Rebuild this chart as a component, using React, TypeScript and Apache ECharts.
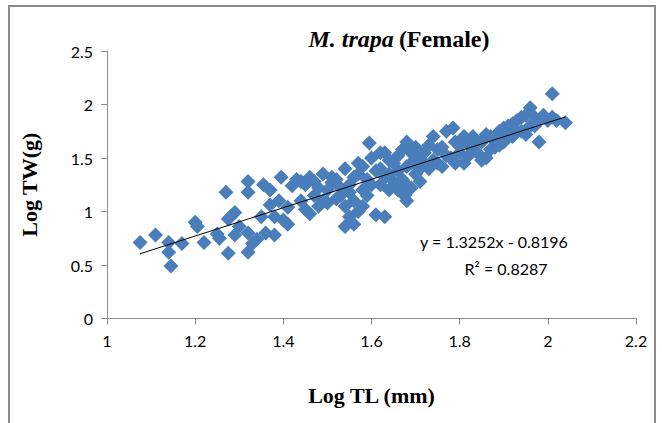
import React, { useEffect, useRef } from "react";
import * as echarts from "echarts";

// Log TL (mm) values
const logTL: number[] = [
  1.075, 1.11, 1.14, 1.14, 1.145, 1.17, 1.2, 1.205, 1.22, 1.25, 1.255, 1.27, 1.275, 1.275, 1.28, 1.29, 1.3, 1.29,
  1.32, 1.32, 1.32, 1.32, 1.33, 1.34, 1.35, 1.355, 1.36, 1.37, 1.37, 1.38, 1.38, 1.39, 1.395, 1.4, 1.41, 1.41, 1.42, 1.43, 1.44, 1.44, 1.45, 1.45,
  1.46, 1.46, 1.47, 1.47, 1.48, 1.48, 1.49, 1.49, 1.5, 1.5, 1.51, 1.51, 1.52, 1.52, 1.53, 1.53, 1.54, 1.54, 1.54, 1.55, 1.55, 1.55, 1.56, 1.56, 1.56, 1.57, 1.57, 1.57, 1.58, 1.58, 1.58, 1.59, 1.59, 1.595, 1.6, 1.6,
  1.61, 1.61, 1.62, 1.62, 1.62, 1.63, 1.63, 1.63, 1.64, 1.64, 1.64, 1.65, 1.65, 1.66, 1.66, 1.66, 1.67, 1.67, 1.675, 1.68, 1.68, 1.68, 1.68, 1.69, 1.69, 1.69, 1.7, 1.7, 1.7, 1.71, 1.71, 1.72, 1.72,
  1.73, 1.73, 1.74, 1.74, 1.75, 1.75, 1.76, 1.76, 1.77, 1.77, 1.78, 1.785, 1.79, 1.79, 1.8, 1.8, 1.81, 1.81, 1.82, 1.82, 1.83, 1.83, 1.84, 1.84, 1.85, 1.85, 1.86, 1.86, 1.87, 1.87, 1.88, 1.88,
  1.89, 1.89, 1.9, 1.9, 1.91, 1.91, 1.92, 1.92, 1.93, 1.93, 1.94, 1.94, 1.95, 1.95, 1.96, 1.96, 1.97, 1.97, 1.98, 1.98, 1.99, 2.0, 2.01, 2.01, 2.02, 2.04
];

// Log TW (g) values
const logTW: number[] = [
  0.71, 0.78, 0.71, 0.62, 0.49, 0.7, 0.9, 0.86, 0.71, 0.79, 0.75, 1.18, 0.61, 0.93, 0.95, 0.99, 0.86, 0.78,
  1.28, 1.18, 0.62, 0.8, 0.7, 0.74, 0.95, 1.25, 0.8, 1.2, 1.06, 0.78, 0.95, 1.1, 1.32, 0.92, 1.04, 0.88, 1.24, 1.3, 1.1, 1.28, 1.25, 1.02,
  1.32, 0.98, 1.28, 1.15, 1.05, 1.22, 1.35, 1.1, 1.2, 1.08, 1.27, 1.32, 1.3, 1.12, 1.15, 1.22, 0.86, 1.4, 1.05, 0.95, 1.25, 1.18, 1.1, 0.88, 1.32, 1.45, 1.35, 1.0, 1.2, 1.05, 1.42, 1.3, 1.15, 1.64, 1.5, 1.25,
  0.97, 1.38, 1.4, 1.25, 1.55, 0.95, 1.55, 1.32, 1.35, 1.2, 1.48, 1.45, 1.28, 1.2, 1.52, 1.38, 1.58, 1.3, 1.15, 1.65, 1.1, 1.42, 1.25, 1.45, 1.55, 1.22, 1.5, 1.35, 1.6, 1.4, 1.28, 1.55, 1.45,
  1.4, 1.62, 1.7, 1.48, 1.45, 1.58, 1.6, 1.42, 1.75, 1.52, 1.5, 1.78, 1.65, 1.45, 1.55, 1.62, 1.45, 1.7, 1.62, 1.52, 1.7, 1.58, 1.55, 1.65, 1.65, 1.48, 1.5, 1.72, 1.7, 1.58, 1.6, 1.66,
  1.75, 1.62, 1.65, 1.78, 1.8, 1.7, 1.7, 1.82, 1.85, 1.75, 1.75, 1.88, 1.9, 1.72, 1.97, 1.8, 1.8, 1.88, 1.65, 1.85, 1.9, 1.85, 2.1, 1.88, 1.85, 1.83
];

const slope = 1.3252;
const intercept = -0.8196;
const trendX: number[] = [1.075, 2.04];

const xTicks = { min: 1, max: 2.2, interval: 0.2 };
const yTicks = { min: 0, max: 2.5, interval: 0.5 };

const equationText = "y = 1.3252x - 0.8196";
const r2Text = "R² = 0.8287";

export default function App() {
  const ref = useRef<HTMLDivElement>(null);
  useEffect(() => {
    if (!ref.current) return;
    const chart = echarts.init(ref.current, null, { renderer: "svg" });
    const points = logTL.map((x, i) => [x, logTW[i]]);
    const trend = trendX.map((x) => [x, slope * x + intercept]);
    const axisGray = "#8c8c8c";
    const labelFont = "Lato, 'Open Sans', sans-serif";
    const serif = "'Liberation Serif', 'Times New Roman', serif";
    chart.setOption({
      animation: false,
      backgroundColor: "#ffffff",
      title: {
        text: "{i|M. trapa} {b|(Female)}",
        left: 394,
        top: 22,
        textAlign: "center",
        textStyle: {
          rich: {
            i: { fontFamily: serif, fontStyle: "italic", fontWeight: "bold", fontSize: 24, color: "#000" },
            b: { fontFamily: serif, fontWeight: "bold", fontSize: 24, color: "#000" },
          },
        },
      },
      grid: { left: 107, right: 26, top: 51, bottom: 104.5 },
      xAxis: {
        type: "value",
        min: xTicks.min,
        max: xTicks.max,
        interval: xTicks.interval,
        name: "Log TL (mm)",
        nameLocation: "middle",
        nameGap: 66,
        nameTextStyle: { fontFamily: serif, fontWeight: "bold", fontSize: 22, color: "#000" },
        axisLine: { show: true, lineStyle: { color: axisGray, width: 1 } },
        axisTick: { show: true, length: 6, lineStyle: { color: axisGray } },
        axisLabel: { fontFamily: labelFont, fontSize: 16, color: "#000", margin: 14 },
        splitLine: { show: false },
      },
      yAxis: {
        type: "value",
        min: yTicks.min,
        max: yTicks.max,
        interval: yTicks.interval,
        name: "Log TW(g)",
        nameLocation: "middle",
        nameGap: 67,
        nameRotate: 90,
        nameTextStyle: { fontFamily: serif, fontWeight: "bold", fontSize: 22, color: "#000" },
        axisLine: { show: true, lineStyle: { color: axisGray, width: 1 } },
        axisTick: { show: true, length: 6, lineStyle: { color: axisGray } },
        axisLabel: { fontFamily: labelFont, fontSize: 16, color: "#000", margin: 14 },
        splitLine: { show: false },
      },
      series: [
        {
          type: "scatter",
          data: points,
          symbol: "diamond",
          symbolSize: 15,
          itemStyle: { color: "#4a7ebb", opacity: 1 },
          z: 2,
        },
        {
          type: "line",
          data: trend,
          symbol: "none",
          lineStyle: { color: "#000", width: 1 },
          z: 3,
        },
      ],
      graphic: [
        {
          type: "rect",
          shape: { x: 9, y: 6, width: 646, height: 430 },
          style: { fill: "none", stroke: "#8a8a8a", lineWidth: 2 },
          silent: true,
        },
        {
          type: "text",
          x: 494,
          y: 241,
          style: { text: equationText, fontFamily: labelFont, fontSize: 16, fill: "#000", textAlign: "center", textVerticalAlign: "middle" },
          z: 10,
        },
        {
          type: "text",
          x: 506,
          y: 268,
          style: { text: r2Text, fontFamily: labelFont, fontSize: 16, fill: "#000", textAlign: "center", textVerticalAlign: "middle" },
          z: 10,
        },
      ],
    });
    return () => chart.dispose();
  }, []);
  return (
    <div
      ref={ref}
      style={{ position: "absolute", left: 0, top: 0, width: 662, height: 423 }}
    />
  );
}
